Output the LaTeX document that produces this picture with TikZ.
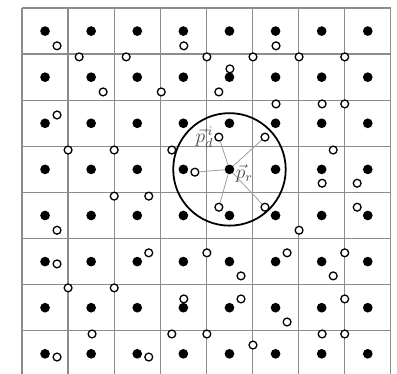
\documentclass[tikz,border=0pt]{standalone}
\usepackage{amsmath,amssymb}
\usetikzlibrary{positioning}

\begin{document}
\begin{tikzpicture}[y=-1cm,
	gridline/.style={draw=gray!90, line width=0.8pt},
	dot/.style={circle, fill=black, inner sep=0pt, minimum size=2.1mm},
	hole/.style={circle, draw=black, fill=white, line width=0.8pt, inner sep=0pt, minimum size=1.7mm},
	spoke/.style={draw=gray!75, line width=0.5pt},
	lbl/.style={text=gray!60!black, inner sep=0.5pt, font=\large}]
	\useasboundingbox (-0.477,-0.174) rectangle (8.134,7.918);
	\clip (-0.477,-0.174) rectangle (8.134,7.918);
	\draw[gridline] (0,0) grid (8,8.5);
	% lattice points
	\foreach \c in {0,...,7} {\foreach \r in {0,...,7} {\node[dot] (d\c\r) at (\c+0.5,\r+0.5) {};}}
	% neighbourhood of p_r
	\draw[line width=1.1pt] (d43) circle (1.22);
	% scattered points
	\foreach \x/\y [count=\i] in {0.76/0.82, 1.24/1.06, 2.26/1.06, 3.51/0.82, 1.76/1.82, 3.02/1.82, 0.76/2.32, 1.0/3.08, 2.0/3.08, 3.25/3.08,
		5.51/0.82, 4.01/1.06, 5.01/1.06, 6.01/1.06, 7.0/1.06, 4.51/1.32, 4.27/1.82, 5.51/2.08, 6.51/2.08, 7.0/2.08,
		6.75/3.08, 6.51/3.80, 7.27/3.80, 2.0/4.08, 2.75/4.08, 0.76/4.82, 0.76/5.55, 2.75/5.31, 1.0/6.07, 2.0/6.07,
		3.51/6.31, 1.52/7.07, 3.25/7.07, 0.76/7.57, 2.75/7.57, 7.27/4.32, 6.01/4.82, 4.01/5.31, 5.75/5.31, 7.0/5.31,
		4.75/5.81, 6.75/5.81, 4.75/6.31, 7.0/6.31, 5.75/6.81, 4.01/7.07, 6.51/7.07, 7.0/7.07, 5.01/7.31}
		{\node[hole] (h\i) at (\x,\y) {};}
	\node[hole] (pd) at (4.27,2.80) {};
	\node[hole] (q1) at (5.27,2.80) {};
	\node[hole] (q2) at (3.75,3.56) {};
	\node[hole] (q3) at (4.27,4.32) {};
	\node[hole] (q4) at (5.27,4.32) {};
	\foreach \h in {pd, q1, q2, q3, q4} {\draw[spoke] (d43) -- (\h);}
	\node[lbl, left=0pt of pd] (lpd) {$\vec{p}_{d}^{\,i}$};
	\node[lbl, right=0pt of d43, yshift=-2.5pt] (lpr) {$\vec{p}_{r}$};
\end{tikzpicture}
\end{document}
